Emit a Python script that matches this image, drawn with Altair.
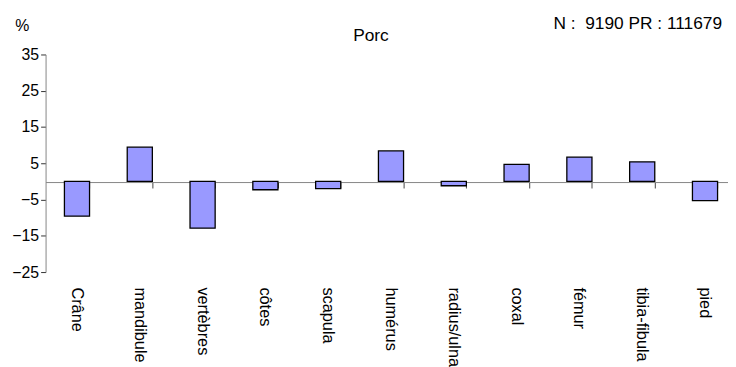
import altair as alt
import pandas as pd

categories = ["Crâne", "mandibule", "vertèbres", "côtes", "scapula", "humérus",
              "radius/ulna", "coxal", "fémur", "tibia-fibula", "pied"]
values = [-9.6, 9.45, -12.9, -2.3, -2.0, 8.4, -1.2, 4.7, 6.7, 5.4, -5.3]
y_ticks = [-25, -15, -5, 5, 15, 25, 35]
y_domain = [-25, 35]
title_text = ["Porc"]
header_text = ["N :\u00a0 9190 PR : 111679"]
y_unit = "%"

df = pd.DataFrame({"cat": categories, "val": values})

W, H = 690, 220
FONT = "Liberation Sans"

x_scale = alt.Scale(domain=categories, range=[0, 698.5], paddingInner=0.6, paddingOuter=0.3)
y_scale = alt.Scale(domain=y_domain, nice=False)

y_axis = alt.Axis(values=y_ticks, title=y_unit, titleAngle=0, titleAlign="center",
                  titleBaseline="middle", titleX=-24, titleY=-29, titleFont=FONT,
                  titleFontSize=16, titleFontWeight="normal", titleColor="black",
                  grid=False, labelFont=FONT, labelFontSize=16, labelColor="black",
                  labelPadding=2, tickSize=5, tickColor="#333333",
                  domainColor="#868686")

bars = alt.Chart(df).mark_bar(color="#9999FF", stroke="black", strokeWidth=1.3).encode(
    x=alt.X("cat:N", scale=x_scale, sort=categories,
            axis=alt.Axis(title=None, orient="bottom", labelAngle=90, labelAlign="left",
                          labelBaseline="middle", labelPadding=15, ticks=False, domain=False,
                          labelFont=FONT, labelFontSize=16.5, labelColor="black",
                          labelOverlap=False)),
    y=alt.Y("val:Q", scale=y_scale, axis=y_axis),
    y2=alt.datum(0),
)

zero_axis = alt.Chart(df).mark_bar(opacity=0).encode(
    x=alt.X("cat:N", scale=x_scale, sort=categories,
            axis=alt.Axis(title=None, labels=False, ticks=True, domain=True, offset=-91,
                          tickBand="extent", tickSize=6, tickColor="#444444",
                          domainColor="#868686", orient="bottom")),
    y=alt.Y("val:Q", scale=y_scale, axis=y_axis),
    y2=alt.datum(0),
)

title_mark = alt.Chart(pd.DataFrame({"t": title_text})).mark_text(
    font=FONT, fontSize=17.5, align="center", baseline="alphabetic", color="black"
).encode(text="t:N", x=alt.value(329), y=alt.value(-14))

header_mark = alt.Chart(pd.DataFrame({"t": header_text})).mark_text(
    font=FONT, fontSize=17.5, align="right", baseline="alphabetic", color="black"
).encode(text="t:N", x=alt.value(684), y=alt.value(-26))

chart = alt.layer(bars, zero_axis, title_mark, header_mark).resolve_axis(
    x="independent"
).properties(
    width=W, height=H,
    autosize=alt.AutoSizeParams(type="none"),
    padding={"left": 38, "top": 45, "right": 0, "bottom": 94},
).configure_view(stroke=None)

chart.save("out.html", embed_options={"renderer": "svg", "actions": False})
